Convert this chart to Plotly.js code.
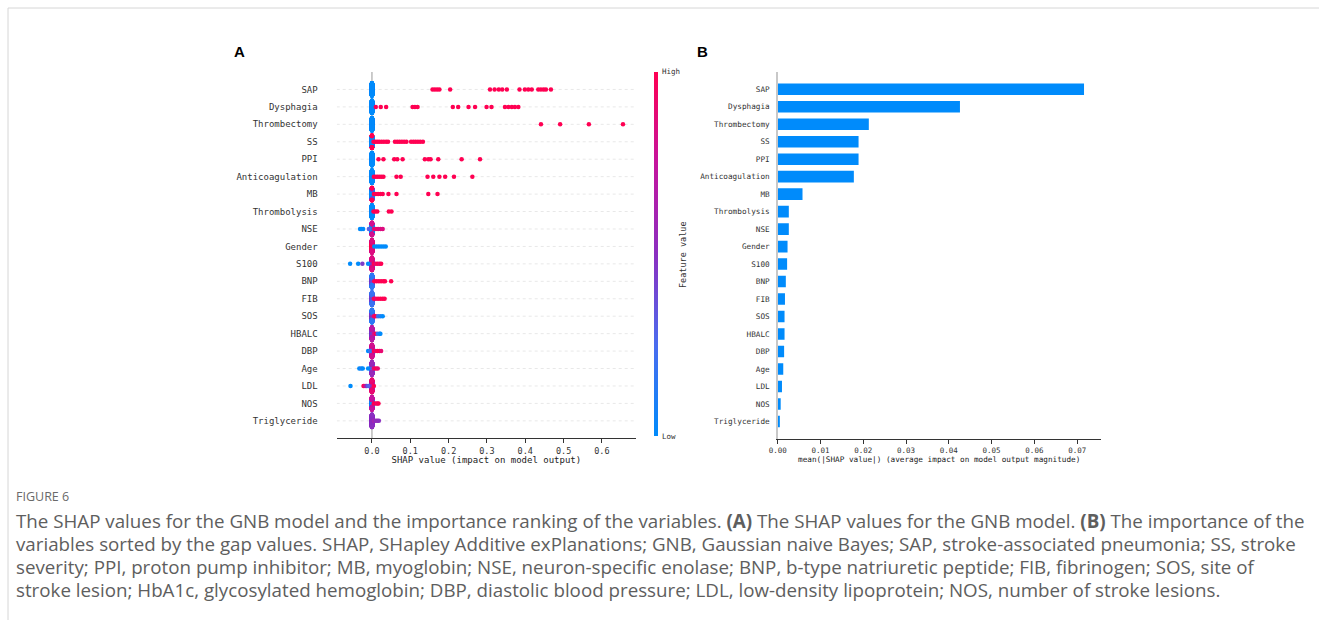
<!DOCTYPE html>
<html><head><meta charset="utf-8">
<script src="https://cdn.plot.ly/plotly-3.0.1.min.js"></script>
<style>html,body{margin:0;padding:0;background:#fff;} #chart{width:1319px;height:620px;}</style>
</head><body><div id="chart"></div>
<script>
// ---------- DATA ----------
const features = ["SAP","Dysphagia","Thrombectomy","SS","PPI","Anticoagulation","MB","Thrombolysis","NSE","Gender","S100","BNP","FIB","SOS","HBALC","DBP","Age","LDL","NOS","Triglyceride"];
const meanAbsShap = [0.0716,0.0426,0.0213,0.0189,0.0189,0.0178,0.0058,0.0026,0.0026,0.0023,0.0022,0.0019,0.0017,0.0016,0.0016,0.0015,0.0013,0.0010,0.0007,0.0005];
const shapTicks = [0,0.1,0.2,0.3,0.4,0.5,0.6];
const barTicks = [0,0.01,0.02,0.03,0.04,0.05,0.06,0.07];
// each entry: [SHAP value, feature value (0 = low, 1 = high), number of samples]
const shapSAP = [[0,0,200],[0.158,1,1],[0.164,1,1],[0.170,1,1],[0.176,1,1],[0.204,1,1],[0.308,1,1],[0.320,1,1],[0.331,1,1],[0.340,1,1],[0.352,1,1],[0.385,1,1],[0.399,1,1],[0.408,1,1],[0.417,1,1],[0.434,1,1],[0.441,1,1],[0.448,1,1],[0.454,1,1],[0.467,1,1]];
const shapDysphagia = [[0,0,200],[0.010,1,1],[0.023,1,1],[0.037,1,1],[0.106,1,1],[0.112,1,1],[0.119,1,1],[0.211,1,1],[0.225,1,1],[0.252,1,1],[0.269,1,1],[0.299,1,1],[0.312,1,1],[0.347,1,1],[0.356,1,1],[0.365,1,1],[0.373,1,1],[0.382,1,1]];
const shapThrombectomy = [[0,0,200],[0.441,1,1],[0.491,1,1],[0.566,1,1],[0.655,1,1]];
const shapSS = [[0,0,180],[0,1,20],[0.004,1,1],[0.009,1,1],[0.014,1,1],[0.019,1,1],[0.025,1,1],[0.031,1,1],[0.037,1,1],[0.042,1,1],[0.060,1,1],[0.066,1,1],[0.072,1,1],[0.078,1,1],[0.084,1,1],[0.090,1,1],[0.102,1,1],[0.108,1,1],[0.114,1,1],[0.120,1,1],[0.126,1,1],[0.133,1,1]];
const shapPPI = [[0,0,200],[0.017,1,1],[0.030,1,1],[0.058,1,1],[0.066,1,1],[0.080,1,1],[0.138,1,1],[0.147,1,1],[0.153,1,1],[0.173,1,1],[0.234,1,1],[0.282,1,1]];
const shapAnticoagulation = [[0,0,200],[0.005,1,1],[0.010,1,1],[0.015,1,1],[0.020,1,1],[0.025,1,1],[0.030,1,1],[0.064,1,1],[0.075,1,1],[0.145,1,1],[0.160,1,1],[0.176,1,1],[0.191,1,1],[0.214,1,1],[0.262,1,1]];
const shapMB = [[0,0,150],[0,0.45,40],[0,1,10],[0.005,1,1],[0.010,1,1],[0.016,1,1],[0.022,1,1],[0.028,1,1],[0.043,1,1],[0.064,1,1],[0.147,1,1],[0.171,1,1]];
const shapThrombolysis = [[0,0,200],[0.004,1,1],[0.009,1,1],[0.014,1,1],[0.044,1,1],[0.051,1,1]];
const shapNSE = [[0,0,150],[0,0.8,50],[-0.031,0,1],[-0.027,0,1],[-0.023,0,1],[-0.008,0.3,1],[0.005,0.9,1],[0.010,0.9,1],[0.016,0.9,1],[0.022,0.85,1],[0.028,0.85,1]];
const shapGender = [[0,1,120],[0,0.85,80],[0.006,0,1],[0.012,0,1],[0.018,0,1],[0.024,0,1],[0.030,0,1],[0.036,0,1]];
const shapS100 = [[0,0.55,120],[0,0.85,80],[-0.057,0,1],[-0.036,0,1],[-0.025,0.45,1],[-0.010,0,1],[0.005,1,1],[0.010,0.9,1],[0.015,1,1],[0.020,0.9,1],[0.024,1,1]];
const shapBNP = [[0,0.4,120],[0,0.15,80],[0.006,1,1],[0.012,1,1],[0.018,1,1],[0.024,1,1],[0.030,1,1],[0.034,1,1],[0.050,1,1]];
const shapFIB = [[0,0.4,120],[0,0.2,80],[0.005,1,1],[0.010,0.9,1],[0.016,1,1],[0.022,1,1],[0.028,1,1],[0.033,1,1]];
const shapSOS = [[0,0.45,120],[0,0.15,80],[0.005,0.9,1],[0.010,1,1],[0.016,0.2,1],[0.022,0.1,1],[0.028,0,1]];
const shapHBALC = [[0,0.45,120],[0,0.7,80],[0.005,0.8,1],[0.010,1,1],[0.015,0.2,1],[0.020,0.1,1],[0.022,0,1]];
const shapDBP = [[0,0.55,120],[0,0.8,80],[-0.010,0,1],[-0.005,0.2,1],[0.005,1,1],[0.010,0.9,1],[0.015,1,1],[0.020,1,1],[0.024,0.9,1]];
const shapAge = [[0,0.3,120],[0,0.55,80],[-0.033,0,1],[-0.028,0.1,1],[-0.024,0,1],[-0.010,0,1],[0.005,0.9,1],[0.010,1,1],[0.015,0.9,1]];
const shapLDL = [[0,0.55,120],[0,0.9,80],[-0.056,0,1],[-0.022,1,1],[-0.018,0.85,1],[-0.014,0.5,1],[-0.010,0.3,1],[0.005,1,1]];
const shapNOS = [[0,0.1,110],[0,0.75,90],[0.005,1,1],[0.010,1,1],[0.014,0.9,1],[0.017,1,1]];
const shapTriglyceride = [[0,0.5,200],[0.005,0.6,1],[0.010,0.5,1],[0.014,0.55,1],[0.018,0.5,1]];
const shapByFeature = [shapSAP,shapDysphagia,shapThrombectomy,shapSS,shapPPI,shapAnticoagulation,shapMB,shapThrombolysis,shapNSE,shapGender,shapS100,shapBNP,shapFIB,shapSOS,shapHBALC,shapDBP,shapAge,shapLDL,shapNOS,shapTriglyceride];

// ---------- LAYOUT HELPERS ----------
const W = 1319, H = 620;
const px = x => x / W;
const py = y => 1 - y / H;
const mono = "DejaVu Sans Mono, monospace";
const shapScale = [[0,'#008bfb'],[0.25,'#4a6cef'],[0.5,'#8b2fc0'],[0.75,'#c5149d'],[1,'#ff0052']];

// beeswarm layout (same idea as shap's summary plot)
function swarm(entries){
  const pts = [];
  entries.forEach(e => { for (let k = 0; k < e[2]; k++) pts.push({v:e[0], f:e[1]}); });
  let mn = Infinity, mx = -Infinity;
  pts.forEach(p => { mn = Math.min(mn,p.v); mx = Math.max(mx,p.v); });
  pts.forEach(p => p.q = Math.round(100 * (p.v - mn) / (mx - mn + 1e-8)));
  const order = pts.map((p,i)=>i).sort((a,b)=> pts[a].q - pts[b].q || a - b);
  let layer = 0, last = -1;
  order.forEach(i => {
    if (pts[i].q !== last) layer = 0;
    pts[i].y = Math.ceil(layer/2) * ((layer % 2) * 2 - 1);
    layer++; last = pts[i].q;
  });
  let m = 0; pts.forEach(p => m = Math.max(m, p.y + 1));
  pts.forEach(p => p.y *= 0.9 * 0.4 / m);
  return pts;
}

const nF = features.length;
const rowY = features.map((f,i) => nF - 1 - i);
const sx = [], sy = [], sc = [];
shapByFeature.forEach((entries, i) => {
  swarm(entries).forEach(p => { sx.push(p.v); sy.push(rowY[i] + p.y); sc.push(p.f); });
});

const traces = [
  {type:'scatter', mode:'markers', x:sx, y:sy, xaxis:'x', yaxis:'y', hoverinfo:'skip',
   marker:{size:4.5, color:sc, colorscale:shapScale, cmin:0, cmax:1, line:{width:0},
     showscale:true,
     colorbar:{x:px(654), xanchor:'left', y:py(254), yanchor:'middle', len:364/H, lenmode:'fraction',
       thickness:4, thicknessmode:'pixels', xpad:0, ypad:0, outlinewidth:0, showticklabels:false, ticks:''}}},
  {type:'bar', orientation:'h', x:meanAbsShap, y:rowY, xaxis:'x2', yaxis:'y2', width:0.66,
   marker:{color:'#008bfb', line:{width:0}}, hoverinfo:'skip'}
];

const shapes = [];
rowY.forEach(y => shapes.push({type:'line', xref:'x', yref:'y', x0:-0.092, x1:0.689, y0:y, y1:y,
  line:{color:'#e8e8e8', width:1, dash:'dot'}, layer:'below'}));
shapes.push({type:'line', xref:'x', yref:'y domain', x0:0, x1:0, y0:0, y1:1, line:{color:'#999999', width:1}, layer:'below'});
shapes.push({type:'line', xref:'paper', yref:'paper', x0:px(8), x1:px(8), y0:0, y1:py(8), line:{color:'#d6d6d6', width:1}});
shapes.push({type:'line', xref:'paper', yref:'paper', x0:px(8), x1:1, y0:py(8), y1:py(8), line:{color:'#d6d6d6', width:1}});

const captionLines = [
  "The SHAP values for the GNB model and the importance ranking of the variables. <b>(A)</b> The SHAP values for the GNB model. <b>(B)</b> The importance of the",
  "variables sorted by the gap values. SHAP, SHapley Additive exPlanations; GNB, Gaussian naive Bayes; SAP, stroke-associated pneumonia; SS, stroke",
  "severity; PPI, proton pump inhibitor; MB, myoglobin; NSE, neuron-specific enolase; BNP, b-type natriuretic peptide; FIB, fibrinogen; SOS, site of",
  "stroke lesion; HbA1c, glycosylated hemoglobin; DBP, diastolic blood pressure; LDL, low-density lipoprotein; NOS, number of stroke lesions."
];
const captionY = [520, 543, 566, 589];

const annotations = [
  {text:'<b>A</b>', x:px(232), y:py(52), xref:'paper', yref:'paper', xanchor:'left', yanchor:'middle', showarrow:false, font:{family:'Liberation Sans, Arial', size:15, color:'#000'}},
  {text:'<b>B</b>', x:px(695), y:py(52), xref:'paper', yref:'paper', xanchor:'left', yanchor:'middle', showarrow:false, font:{family:'Liberation Sans, Arial', size:15, color:'#000'}},
  {text:'High', x:px(660), y:py(72), xref:'paper', yref:'paper', xanchor:'left', yanchor:'middle', showarrow:false, font:{family:mono, size:7.5, color:'#333'}},
  {text:'Low', x:px(660), y:py(436), xref:'paper', yref:'paper', xanchor:'left', yanchor:'middle', showarrow:false, font:{family:mono, size:7.5, color:'#333'}},
  {text:'Feature value', x:px(683), y:py(254), xref:'paper', yref:'paper', xanchor:'center', yanchor:'middle', textangle:-90, showarrow:false, font:{family:mono, size:8.5, color:'#333'}},
  {text:'FIGURE 6', x:px(14), y:py(496), xref:'paper', yref:'paper', xanchor:'left', yanchor:'middle', showarrow:false, font:{family:'Open Sans', size:12.5, color:'#6a6a6a'}}
];
captionLines.forEach((t,i) => annotations.push({text:t, x:px(14), y:py(captionY[i]), xref:'paper', yref:'paper', xanchor:'left', yanchor:'middle', showarrow:false, font:{family:'Open Sans', size:18.75, color:'#5e5e5e'}}));

const axisCommon = {showgrid:false, zeroline:false, showline:true, linecolor:'#333', linewidth:1, ticks:'outside', ticklen:4, tickcolor:'#333'};

const layout = {
  width:W, height:H, margin:{l:0, r:0, t:0, b:0}, paper_bgcolor:'#fff', plot_bgcolor:'rgba(0,0,0,0)', showlegend:false,
  xaxis: Object.assign({}, axisCommon, {domain:[px(336.7), px(636)], range:[-0.092, 0.689], tickvals:shapTicks, tickformat:'.1f',
    tickfont:{family:mono, size:8.5, color:'#333'}, anchor:'y',
    title:{text:'SHAP value (impact on model output)', font:{family:mono, size:9, color:'#222'}, standoff:0}}),
  yaxis: {domain:[py(438.3), py(72)], range:[-1, nF], showgrid:false, zeroline:false, showline:false, ticks:'',
    tickvals:rowY, ticktext:features, tickfont:{family:mono, size:9, color:'#333'}, ticklabelstandoff:18, anchor:'x'},
  xaxis2: Object.assign({}, axisCommon, {domain:[px(777.7), px(1100.7)], range:[0, 0.0755], tickvals:barTicks, tickformat:'.2f',
    tickfont:{family:mono, size:7.5, color:'#333'}, anchor:'y2',
    title:{text:'mean(|SHAP value|) (average impact on model output magnitude)', font:{family:mono, size:7.7, color:'#222'}, standoff:2}}),
  yaxis2: {domain:[py(439), py(71.7)], range:[-1, nF], showgrid:false, zeroline:false, showline:true, linecolor:'#c8c8c8', linewidth:1.5, ticks:'',
    tickvals:rowY, ticktext:features, tickfont:{family:mono, size:7.7, color:'#333'}, ticklabelstandoff:5, anchor:'x2'},
  shapes:shapes, annotations:annotations
};

Plotly.newPlot('chart', traces, layout, {staticPlot:true, displayModeBar:false});
</script>
</body></html>
